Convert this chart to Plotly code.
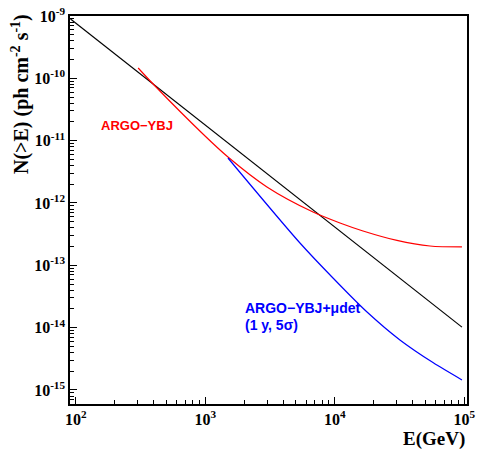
import plotly.graph_objects as go

# Black line (reference power law)
black_E = [91, 95940]
black_N = [8.95e-10, 1.02e-14]

# ARGO-YBJ sensitivity (red)
red_E = [303, 409, 959, 1496, 2992, 6792, 10965, 16520, 30200, 54330, 95940]
red_N = [1.466e-10, 7.53e-11, 1.28e-11, 5.47e-12, 1.81e-12, 7.16e-13, 4.78e-13,
         3.56e-13, 2.51e-13, 2.04e-13, 1.97e-13]

# ARGO-YBJ + mu det sensitivity (blue)
blue_E = [1496, 5383, 9683, 17740, 31840, 57280, 95940]
blue_N = [5.27e-12, 2.28e-13, 6.26e-14, 1.78e-14, 6.34e-15, 2.75e-15, 1.45e-15]

x_tickvals = [1e2, 1e3, 1e4, 1e5]
x_ticktext = ["10<sup>2</sup>", "10<sup>3</sup>", "10<sup>4</sup>", "10<sup>5</sup>"]
y_tickvals = [1e-9, 1e-10, 1e-11, 1e-12, 1e-13, 1e-14, 1e-15]
y_ticktext = ["10<sup>-9</sup>", "10<sup>-10</sup>", "10<sup>-11</sup>", "10<sup>-12</sup>",
              "10<sup>-13</sup>", "10<sup>-14</sup>", "10<sup>-15</sup>"]

fig = go.Figure()
fig.add_trace(go.Scatter(x=black_E, y=black_N, mode="lines",
                         line=dict(color="black", width=1.2), showlegend=False))
fig.add_trace(go.Scatter(x=red_E, y=red_N, mode="lines", line_shape="spline",
                         line=dict(color="#ff0000", width=1.2, smoothing=0.8),
                         showlegend=False))
fig.add_trace(go.Scatter(x=blue_E, y=blue_N, mode="lines", line_shape="spline",
                         line=dict(color="#0000ff", width=1.2, smoothing=0.8),
                         showlegend=False))

serif = "Liberation Serif"
sans = "Liberation Sans"

fig.update_layout(
    width=479, height=451,
    margin=dict(l=70, r=12, t=16, b=47),
    paper_bgcolor="white", plot_bgcolor="white",
    xaxis=dict(type="log", range=[1.955, 5.021], showgrid=False, zeroline=False,
               automargin=False,
               showline=True, linecolor="black", linewidth=1.5, mirror=True,
               ticks="inside", ticklen=7, tickcolor="black", tickwidth=1,
               tickvals=x_tickvals, ticktext=x_ticktext,
               tickfont=dict(family=serif, size=16, color="black", weight="bold"),
               minor=dict(ticks="inside", ticklen=4, dtick="D1", tickcolor="black",
                          showgrid=False)),
    yaxis=dict(type="log", range=[-15.225, -9.0], showgrid=False, zeroline=False,
               automargin=False,
               showline=True, linecolor="black", linewidth=1.5, mirror=True,
               ticks="inside", ticklen=7, tickcolor="black", tickwidth=1,
               tickvals=y_tickvals, ticktext=y_ticktext,
               tickfont=dict(family=serif, size=16, color="black", weight="bold"),
               ticklabelstandoff=0,
               minor=dict(ticks="inside", ticklen=4, dtick="D1", tickcolor="black",
                          showgrid=False)),
    annotations=[
        dict(text="N(>E) (ph cm<sup>-2</sup> s<sup>-1</sup>)", textangle=-90,
             xref="paper", yref="paper", x=-0.1234, y=0.799,
             xanchor="center", yanchor="middle", showarrow=False,
             font=dict(family=serif, size=20, color="black", weight="bold")),
        dict(text="E(GeV)", xref="paper", yref="paper", x=1.0, y=-0.090,
             xanchor="right", yanchor="middle", showarrow=False,
             font=dict(family=serif, size=19, color="black", weight="bold")),
        dict(text="ARGO\u2212YBJ", xref="x", yref="y", x=2.179, y=-10.749,
             xanchor="left", yanchor="middle", showarrow=False,
             font=dict(family=sans, size=13, color="#ff0000", weight="bold")),
        dict(text="ARGO\u2212YBJ+\u03bcdet", xref="x", yref="y", x=3.291, y=-13.69,
             xanchor="left", yanchor="middle", showarrow=False,
             font=dict(family=sans, size=14, color="#0000ff", weight="bold")),
        dict(text="(1 y, 5\u03c3)", xref="x", yref="y", x=3.291, y=-13.96,
             xanchor="left", yanchor="middle", showarrow=False,
             font=dict(family=sans, size=14, color="#0000ff", weight="bold")),
    ],
)

fig.write_html("out.html", config={"displayModeBar": False},
               post_script="document.body.style.margin='0px';document.body.style.overflow='hidden';")
